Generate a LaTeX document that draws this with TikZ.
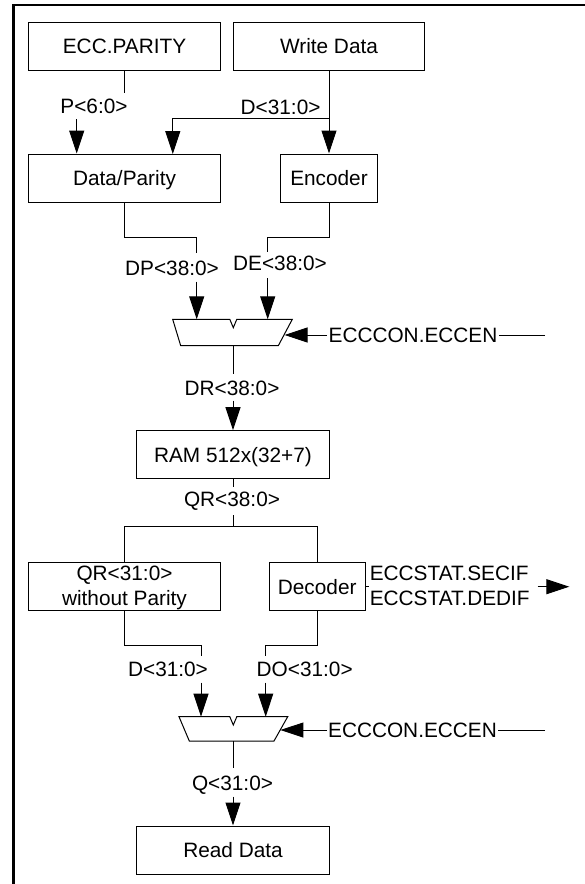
\documentclass[tikz,border=0pt]{standalone}
\usepackage{fontspec}
\setmainfont{Liberation Sans}
\usetikzlibrary{arrows.meta}
\begin{document}
\begin{tikzpicture}[x=1pt,y=-1pt,
  blk/.style={draw,line width=1pt,inner sep=0pt,text height=15pt,text depth=0pt},
  lab/.style={inner sep=0pt,text height=15pt,text depth=0pt},
  wire/.style={line width=1pt},
  arr/.style={line width=1pt,-{Triangle[length=23pt,width=15pt]}},
  muxs/.style={draw,line width=1pt,line join=miter},
  font=\fontsize{20.8}{25}\selectfont]
\useasboundingbox (0,0) rectangle (585,884);
\draw[line width=2.5pt] (13.5,884) -- (13.5,5) -- (585,5);

% boxes
\node[blk,minimum width=192.4pt,minimum height=48pt] (ecc) at (124.5,46) {ECC.PARITY};
\node[blk,minimum width=191.8pt,minimum height=48pt] (wd) at (329,46) {Write Data};
\node[blk,minimum width=192.4pt,minimum height=48pt] (dp) at (124.5,178) {Data/Parity};
\node[blk,minimum width=97.3pt,minimum height=48pt] (enc) at (329,178) {Encoder};
\node[blk,minimum width=192.6pt,minimum height=47.6pt] (ram) at (233,454.5) {RAM 512x(32+7)};
\node[blk,minimum width=192.4pt,minimum height=48.4pt] (qr) at (124.5,586.5) {};
\node[lab] (qrt1) at (124.5,573.3) {QR<31:0>};
\node[lab] (qrt2) at (124.5,598.3) {without Parity};
\node[blk,minimum width=96.1pt,minimum height=48.4pt] (dec) at (317.2,586.5) {Decoder};
\node[blk,minimum width=192.6pt,minimum height=48pt] (rd) at (233,850) {Read Data};

% labels
\node[lab] (plab) at (94,106) {P<6:0>};
\node[lab] (dlab) at (280.6,106.5) {D<31:0>};
\node[lab] (dplab) at (172,268) {DP<38:0>};
\node[lab] (delab) at (280,263) {DE<38:0>};
\node[lab] (drlab) at (232,388) {DR<38:0>};
\node[lab] (ctl1) at (413,335) {ECCCON.ECCEN};
\node[lab] (qrlab) at (232,499.3) {QR<38:0>};
\node[lab,anchor=west] (secif) at (369.6,573.3) {ECCSTAT.SECIF};
\node[lab,anchor=west] (dedif) at (369.6,598.3) {ECCSTAT.DEDIF};
\node[lab] (d2lab) at (168,669.3) {D<31:0>};
\node[lab] (dolab) at (304.7,669.3) {DO<31:0>};
\node[lab] (ctl2) at (412.5,730) {ECCCON.ECCEN};
\node[lab] (qlab) at (232.5,782.7) {Q<31:0>};

% multiplexers
\draw[muxs] (172.7,319.3) -- (229.8,319.3) -- (233.3,327.7) -- (236.8,319.3) -- (292.3,319.3) -- (278.3,345.7) -- (180.7,345.7) -- cycle;
\draw[muxs] (179,716.7) -- (229.8,716.7) -- (233.3,725) -- (236.8,716.7) -- (287.7,716.7) -- (274,741) -- (189.3,741) -- cycle;

\coordinate (m1a) at (196.7,319.3);
\coordinate (m1b) at (267.7,319.3);
\coordinate (m1o) at (233.3,345.7);
\coordinate (m1c) at (284.6,335);
\coordinate (m2a) at (201,716.7);
\coordinate (m2b) at (265.7,716.7);
\coordinate (m2o) at (233.3,741);
\coordinate (m2c) at (280.4,730);

% write path
\coordinate (pA) at (124.5,92.7);
\coordinate (pB) at (76.7,119);
\draw[wire] (ecc.south) -- (pA);
\draw[arr] (pB) -- (pB |- dp.north);
\draw[arr] (wd.south) -- (enc.north);
\coordinate (br) at (329,118.3);
\coordinate (dpin) at (172.8,154);
\draw[arr] (br) -| (dpin);

\coordinate (dpk) at (196.7,237.7);
\coordinate (dpe) at (196.7,253);
\coordinate (dps) at (196.7,281.7);
\draw[wire] (dp.south) |- (dpk) -- (dpe);
\draw[arr] (dps) -- (m1a);
\coordinate (dek) at (267.7,237.7);
\coordinate (dee) at (267.7,251.7);
\coordinate (des) at (267.7,278);
\draw[wire] (enc.south) |- (dek) -- (dee);
\draw[arr] (des) -- (m1b);

\coordinate (c1r) at (545,335);
\coordinate (c1l) at (327,335);
\coordinate (c1rr) at (499,335);
\draw[wire] (c1r) -- (c1rr);
\draw[arr] (c1l) -- (m1c);

\coordinate (dre) at (233.3,374.3);
\coordinate (drs) at (233,400.7);
\draw[wire] (m1o) -- (dre);
\draw[arr] (drs) -- (ram.north);

% read path
\coordinate (qre) at (233,487.3);
\coordinate (qrs) at (233,515);
\coordinate (qrk) at (233,526.7);
\draw[wire] (ram.south) -- (qre);
\draw[wire] (qrs) -- (qrk);
\draw[wire] (qr.north) |- (qrk) -| (dec.north);

\coordinate (sa) at (369,586.7);
\coordinate (sb) at (537.6,586.7);
\coordinate (sc) at (569.4,586.7);
\draw[wire] (dec.east |- sa) -- (sa);
\draw[arr] (sb) -- (sc);

\coordinate (d2k) at (201,645.7);
\coordinate (d2e) at (201,656);
\coordinate (d2s) at (201,682.7);
\draw[wire] (qr.south) |- (d2k) -- (d2e);
\draw[arr] (d2s) -- (m2a);
\coordinate (dok) at (265.7,645.7);
\coordinate (doe) at (265.7,656);
\coordinate (dos) at (265.7,682.7);
\draw[wire] (dec.south) |- (dok) -- (doe);
\draw[arr] (dos) -- (m2b);

\coordinate (c2r) at (545,730);
\coordinate (c2l) at (327,730);
\coordinate (c2rr) at (498.3,730);
\draw[wire] (c2r) -- (c2rr);
\draw[arr] (c2l) -- (m2c);

\coordinate (qe) at (233.3,768.3);
\coordinate (qs) at (233,796.7);
\draw[wire] (m2o) -- (qe);
\draw[arr] (qs) -- (rd.north);
\end{tikzpicture}
\end{document}
